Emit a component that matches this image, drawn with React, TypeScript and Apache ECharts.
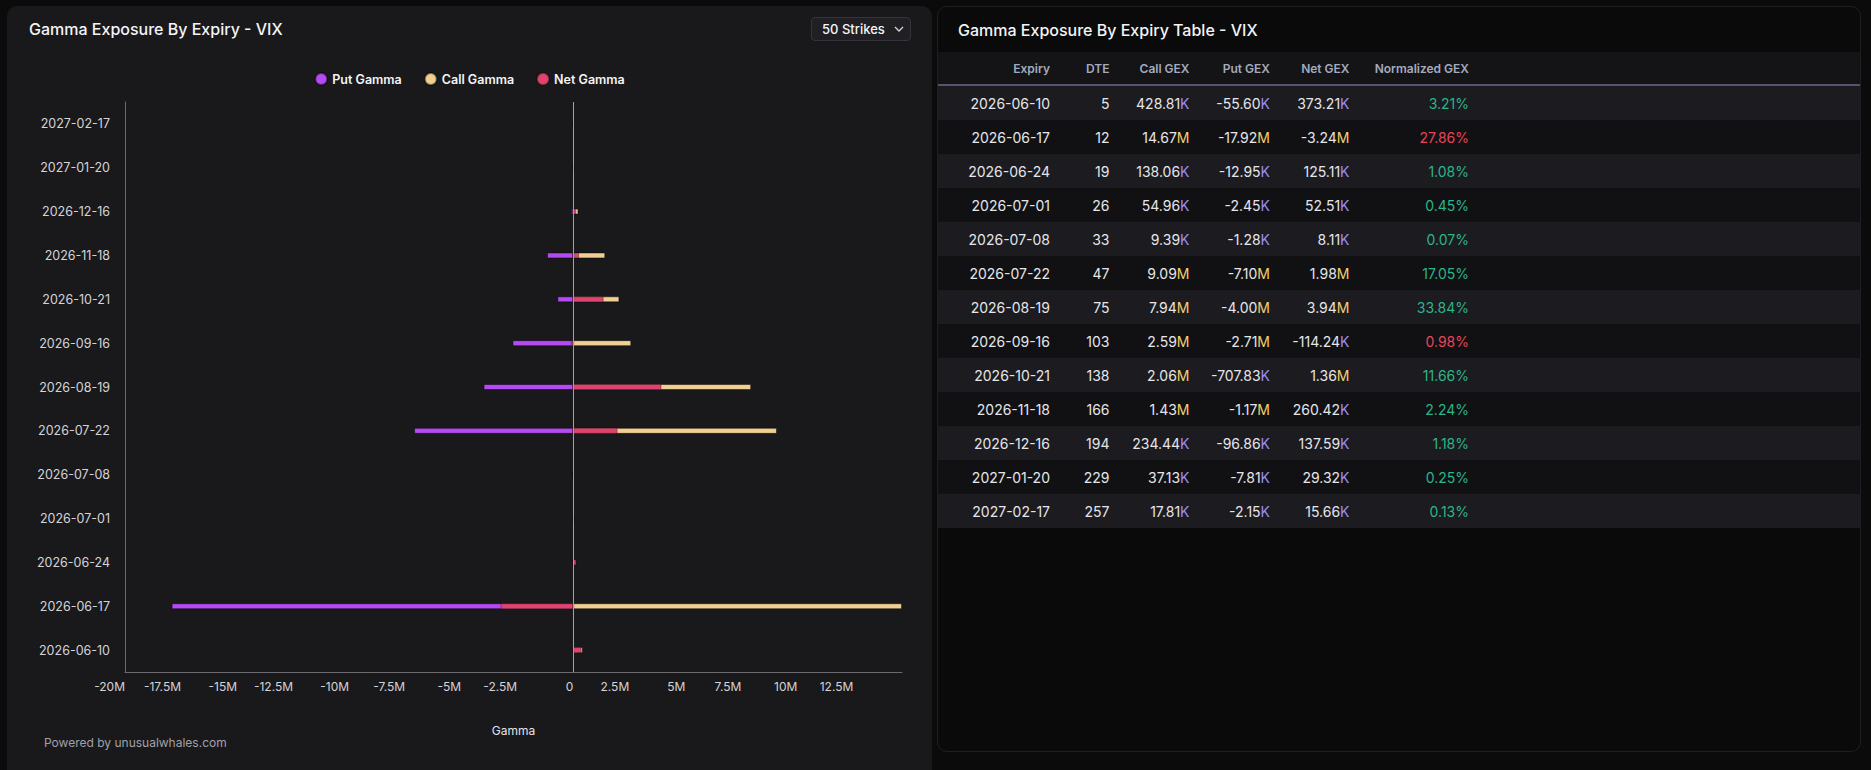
import React, { useEffect, useRef } from "react";
import * as echarts from "echarts";

const expiries = [
  "2026-06-10", "2026-06-17", "2026-06-24", "2026-07-01", "2026-07-08", "2026-07-22",
  "2026-08-19", "2026-09-16", "2026-10-21", "2026-11-18", "2026-12-16", "2027-01-20", "2027-02-17",
];
const dte = [5, 12, 19, 26, 33, 47, 75, 103, 138, 166, 194, 229, 257];
const callGamma = [428810, 14670000, 138060, 54960, 9390, 9090000, 7940000, 2590000, 2060000, 1430000, 234440, 37130, 17810];
const putGamma = [-55600, -17920000, -12950, -2450, -1280, -7100000, -4000000, -2710000, -707830, -1170000, -96860, -7810, -2150];
const netGamma = [373210, -3240000, 125110, 52510, 8110, 1980000, 3940000, -114240, 1360000, 260420, 137590, 29320, 15660];
const normalizedGex = [3.21, 27.86, 1.08, 0.45, 0.07, 17.05, 33.84, 0.98, 11.66, 2.24, 1.18, 0.25, 0.13];

const legendNames = ["Put Gamma", "Call Gamma", "Net Gamma"];
const tableHeaders = ["Expiry", "DTE", "Call GEX", "Put GEX", "Net GEX", "Normalized GEX"];
const xMin = -20000000;
const xInterval = 2500000;

const COLORS = { put: "#b44af1", call: "#f0cf92", net: "#e0436e" };
const FONT = "Inter, 'Noto Sans', sans-serif";

function tickLabel(v: number) {
  if (v === 0) return "0";
  return `${v / 1e6}M`;
}

function splitGex(v: number): [string, string] {
  if (Math.abs(v) >= 1e6) return [(v / 1e6).toFixed(2), "M"];
  return [(v / 1e3).toFixed(2), "K"];
}

function GexCell({ v }: { v: number }) {
  const [num, suf] = splitGex(v);
  return (
    <span>
      {num}
      <span style={{ color: suf === "M" ? "#f3cf6f" : "#9d8cf7" }}>{suf}</span>
    </span>
  );
}

function Chart() {
  const ref = useRef<HTMLDivElement>(null);
  useEffect(() => {
    if (!ref.current) return;
    const chart = echarts.init(ref.current, undefined, { renderer: "svg" });
    const barCommon = {
      type: "bar",
      barWidth: 6,
      barGap: "-100%",
    };
    chart.setOption({
      animation: false,
      backgroundColor: "transparent",
      textStyle: { fontFamily: FONT },
      legend: {
        data: legendNames,
        top: 61,
        left: "center",
        icon: "circle",
        itemWidth: 12,
        itemHeight: 12,
        itemGap: 22,
        textStyle: { color: "#f4f4f5", fontSize: 12.5, fontWeight: 600, fontFamily: FONT },
      },
      grid: { left: 118, top: 96, width: 777, height: 570, containLabel: false },
      xAxis: {
        type: "value",
        min: xMin,
        max: "dataMax",
        interval: xInterval,
        name: "Gamma",
        nameLocation: "middle",
        nameGap: 52,
        nameTextStyle: { color: "#e4e4e7", fontSize: 12, fontFamily: FONT },
        axisLine: { show: true, lineStyle: { color: "#6b6b70" } },
        axisTick: { show: false },
        splitLine: { show: false },
        axisLabel: {
          color: "#d4d4d8",
          fontSize: 12,
          fontFamily: FONT,
          align: "right",
          margin: 8,
          showMaxLabel: false,
          formatter: tickLabel,
        },
      },
      yAxis: {
        type: "category",
        data: expiries,
        axisLine: { show: true, onZero: false, lineStyle: { color: "#6b6b70" } },
        axisTick: { show: false },
        splitLine: { show: false },
        axisLabel: { color: "#d4d4d8", fontSize: 12.5, fontFamily: FONT, margin: 15 },
      },
      series: [
        {
          ...barCommon,
          name: "Put Gamma",
          data: putGamma,
          itemStyle: { color: COLORS.put, borderColor: "rgba(0,0,0,0.45)", borderWidth: 1 },
        },
        {
          ...barCommon,
          name: "Call Gamma",
          data: callGamma,
          itemStyle: { color: COLORS.call, borderColor: "rgba(0,0,0,0.45)", borderWidth: 1 },
        },
        {
          ...barCommon,
          name: "Net Gamma",
          data: netGamma,
          itemStyle: { color: COLORS.net, borderColor: "rgba(0,0,0,0.3)", borderWidth: 1 },
          markLine: {
            silent: true,
            symbol: ["none", "none"],
            label: { show: false },
            lineStyle: { color: "#a1a1a6", width: 1, type: "solid" },
            data: [{ xAxis: 0 }],
          },
        },
      ],
    });
    return () => chart.dispose();
  }, []);
  return <div ref={ref} style={{ position: "absolute", left: 0, top: 0, width: 925, height: 764 }} />;
}

export default function App() {
  useEffect(() => {
    document.body.style.margin = "0";
    document.body.style.background = "#0b0b0c";
  }, []);

  const colTemplate = "112px 59.5px 80px 80.5px 79.5px 119.5px 1fr";

  return (
    <div
      style={{
        position: "relative",
        width: 1871,
        height: 770,
        overflow: "hidden",
        background: "#0b0b0c",
        fontFamily: FONT,
      }}
    >
      {/* Left panel */}
      <div
        style={{
          position: "absolute",
          left: 7,
          top: 6,
          width: 925,
          height: 790,
          background: "#19191c",
          borderRadius: 10,
          overflow: "hidden",
        }}
      >
        <Chart />
        <div
          style={{
            position: "absolute",
            left: 22,
            top: 12,
            fontSize: 16,
            fontWeight: 500,
            color: "#f4f4f5",
            lineHeight: "22px",
          }}
        >
          Gamma Exposure By Expiry - VIX
        </div>
        <div
          style={{
            position: "absolute",
            left: 804,
            top: 11,
            width: 100,
            height: 24,
            boxSizing: "border-box",
            border: "1px solid #34343a",
            borderRadius: 4,
            background: "#202024",
            color: "#f4f4f5",
            fontSize: 13,
            fontWeight: 500,
            display: "flex",
            alignItems: "center",
            paddingLeft: 10,
          }}
        >
          <span>50 Strikes</span>
          <svg width="10" height="6" viewBox="0 0 10 6" style={{ marginLeft: 9 }}>
            <polyline points="1,1 5,5 9,1" fill="none" stroke="#d4d4d8" strokeWidth="1.3" />
          </svg>
        </div>
        <div
          style={{
            position: "absolute",
            left: 37,
            top: 729,
            fontSize: 12,
            color: "#a1a1aa",
            lineHeight: "16px",
          }}
        >
          Powered by unusualwhales.com
        </div>
      </div>

      {/* Right panel */}
      <div
        style={{
          position: "absolute",
          left: 937,
          top: 6,
          width: 924,
          height: 746,
          boxSizing: "border-box",
          background: "#0a0a0b",
          border: "1px solid #1f1f23",
          borderRadius: 10,
          overflow: "hidden",
        }}
      >
        <div
          style={{
            position: "absolute",
            left: 20,
            top: 12,
            fontSize: 16,
            fontWeight: 500,
            color: "#f4f4f5",
            lineHeight: "22px",
          }}
        >
          Gamma Exposure By Expiry Table - VIX
        </div>
        <div style={{ position: "absolute", left: 0, top: 45, right: 0 }}>
          <div
            style={{
              display: "grid",
              gridTemplateColumns: colTemplate,
              height: 32,
              alignItems: "center",
              background: "#141417",
              borderBottom: "2px solid #56546c",
              color: "#a3abbd",
              fontSize: 12,
              fontWeight: 600,
              textAlign: "right",
            }}
          >
            {tableHeaders.map((h) => (
              <div key={h}>{h}</div>
            ))}
            <div />
          </div>
          {expiries.map((e, i) => (
            <div
              key={e}
              style={{
                display: "grid",
                gridTemplateColumns: colTemplate,
                height: 34,
                alignItems: "center",
                background: i % 2 === 0 ? "#1b1b20" : "#111114",
                color: "#e6e6ea",
                fontSize: 14,
                textAlign: "right",
              }}
            >
              <div>{e}</div>
              <div>{dte[i]}</div>
              <div>
                <GexCell v={callGamma[i]} />
              </div>
              <div>
                <GexCell v={putGamma[i]} />
              </div>
              <div>
                <GexCell v={netGamma[i]} />
              </div>
              <div style={{ color: netGamma[i] < 0 ? "#e8445a" : "#2bb58a" }}>
                {normalizedGex[i].toFixed(2)}%
              </div>
              <div />
            </div>
          ))}
        </div>
      </div>
    </div>
  );
}
